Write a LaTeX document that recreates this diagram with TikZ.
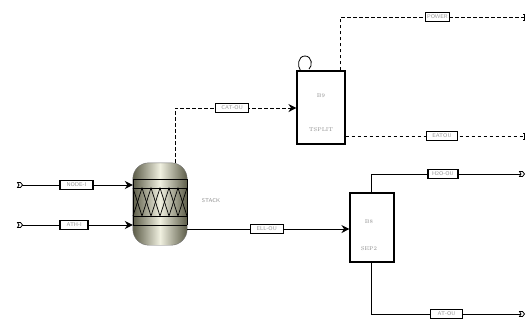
\documentclass[tikz,border=0pt]{standalone}
\usetikzlibrary{arrows.meta}
\definecolor{vesdark}{RGB}{92,92,72}
\definecolor{veslight}{RGB}{240,240,224}
\begin{document}
\begin{tikzpicture}[x=1pt,y=-1pt,
  stream/.style={line width=1pt, black},
  signal/.style={line width=1pt, dash pattern=on 3.5pt off 2.5pt},
  tagbox/.style={draw, solid, line width=1.3pt, fill=white, inner sep=0pt, minimum height=9.5pt,
    font=\fontsize{5.5}{6}\sffamily, text=black!40},
  blk/.style={draw, line width=1.1pt, fill=white, inner sep=0pt},
  lab/.style={font=\fontsize{5.5}{6}\selectfont, text=black!45},
  inlet/.style={-{Stealth[length=8pt,width=8pt]}},
  port/.pic={\draw[line width=0.8pt, fill=white]
     (-2.5,-2.5) -- (0.5,-2.5) -- (2.5,0) -- (0.5,2.5) -- (-2.5,2.5) -- (-1,0) -- cycle;},
  sigend/.pic={\draw[solid, line width=0.7pt] (-1,-3) -- (0,-3) -- (0,3) -- (-1,3);},
]
\useasboundingbox (0,0) rectangle (529,322);

% ---------- stripping column STACK ----------
\node[minimum width=54pt, minimum height=82pt, inner sep=0pt] (stack) at (160,204) {};
\path[rounded corners=16pt, left color=vesdark, right color=vesdark, middle color=veslight]
  (stack.north west) rectangle (stack.south east);
\draw[rounded corners=16pt, line width=0.4pt, black!55]
  (stack.north west) rectangle (stack.south east);
\foreach \yy in {179,188,216,225}
  \draw[line width=0.8pt] (133,\yy) -- (187,\yy);
\draw[line width=0.8pt] (133,179) -- (133,225) (187,179) -- (187,225);
% packing
\draw[line width=0.7pt] (133,188) -- (142,216) -- (151,188) -- (160,216) -- (169,188) -- (178,216) -- (187,188);
\draw[line width=0.7pt] (133,216) -- (142,188) -- (151,216) -- (160,188) -- (169,216) -- (178,188) -- (187,216);
\node[lab, font=\fontsize{5.5}{6}\sffamily] (stacklab) at (211,201) {STACK};

% ---------- blocks ----------
\node[blk, minimum width=48pt, minimum height=73pt] (b9) at (321,107.5) {};
\node[lab] (b9id) at (321,96) {B9};
\node[lab] (b9ty) at (321,130) {TSPLIT};
\draw[line width=0.8pt] ([xshift=4pt]b9.north west) .. controls (297,66) and (298,56) .. (305,56)
  .. controls (312,56) and (313,66) .. (309,69) -- ([xshift=13pt,yshift=2pt]b9.north west);

\node[blk, minimum width=44pt, minimum height=69pt] (b8) at (372,227.5) {};
\node[lab] (b8id) at (369,222) {B8};
\node[lab] (b8ty) at (369,249) {SEP2};

% ---------- feeds ----------
\coordinate (f1) at (20,185);
\coordinate (f2) at (20,225);
\draw[stream, inlet] (f1) -- node[tagbox, minimum width=33pt, pos=0.5] (s1) {NODE-I} (stack.west |- f1);
\draw[stream, inlet] (f2) -- node[tagbox, minimum width=28pt, pos=0.48] (s2) {ATH-I} (stack.west |- f2);
\pic at (f1) {port};
\pic at (f2) {port};

% ---------- column vapour to B9 ----------
\coordinate (vout) at ([xshift=15pt]stack.north);
\draw[signal, inlet] (vout) |- node[tagbox, minimum width=33pt, pos=0.735] (s3) {CAT-OU} (b9.west |- 0,108);

% ---------- B9 outlets ----------
\coordinate (p1) at (524,17);
\coordinate (p2) at (524,136);
\draw[signal] ([xshift=-5pt]b9.north east) |- node[tagbox, minimum width=24pt, pos=0.764] (s4) {POWER} (p1);
\draw[signal] (b9.east |- p2) -- node[tagbox, minimum width=31pt, pos=0.54] (s5) {EATOU} (p2);
\pic at (p1) {sigend};
\pic at (p2) {sigend};

% ---------- column bottoms to B8 ----------
\draw[stream, inlet] (stack.east |- 0,229) -- node[tagbox, minimum width=33pt, pos=0.49] (s6) {ELL-OU} (b8.west |- 0,229);

% ---------- B8 outlets ----------
\coordinate (p3) at (522,174);
\coordinate (p4) at (522,314);
\draw[stream] ([xshift=-1pt]b8.north) |- node[tagbox, minimum width=30pt, pos=0.738] (s7) {H2O-OU} (p3);
\draw[stream] ([xshift=-1pt]b8.south) |- node[tagbox, minimum width=32pt, pos=0.75] (s8) {AT-OU} (p4);
\pic at (p3) {port};
\pic at (p4) {port};
\end{tikzpicture}
\end{document}
